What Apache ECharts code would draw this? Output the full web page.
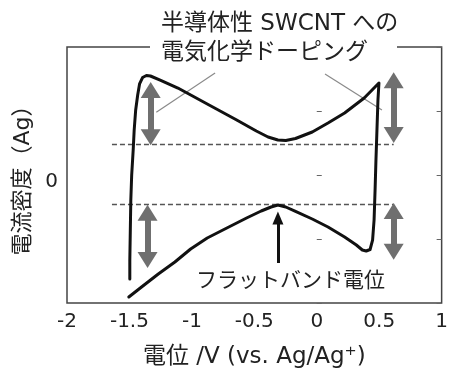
<!DOCTYPE html>
<html><head><meta charset="utf-8">
<script src="https://cdn.jsdelivr.net/npm/echarts@6/dist/echarts.min.js"></script>
<style>html,body{margin:0;padding:0;background:#fff}#c{width:451px;height:374px}</style>
</head><body><div id="c"></div>
<script>
// Cyclic voltammogram: forward sweep (lower branch, then up the right edge)
const forwardPotential = [-1.505,-1.403,-1.269,-1.136,-1.010,-0.877,-0.720,-0.562,-0.445,-0.366,-0.311,-0.248,-0.170,-0.036,0.090,0.223,0.317,0.365,0.396,0.427,0.447,0.459,0.467,0.474,0.482,0.490,0.498];
const forwardCurrent   = [-1.906,-1.75,-1.547,-1.359,-1.156,-0.984,-0.828,-0.672,-0.5625,-0.5,-0.469,-0.5,-0.570,-0.6875,-0.8125,-0.969,-1.094,-1.172,-1.1875,-1.164,-1.016,-0.703,-0.234,0.234,0.703,1.172,1.4375];
// reverse sweep (upper branch, then down the left edge)
const reversePotential = [0.380,0.223,0.090,-0.036,-0.170,-0.248,-0.311,-0.390,-0.484,-0.641,-0.877,-1.112,-1.254,-1.332,-1.364,-1.395,-1.419,-1.434,-1.450,-1.462,-1.470,-1.482,-1.489,-1.493,-1.497,-1.497];
const reverseCurrent   = [1.203,0.969,0.8125,0.672,0.570,0.539,0.547,0.594,0.6875,0.859,1.109,1.359,1.484,1.547,1.555,1.523,1.422,1.25,1.016,0.703,0.391,0,-0.391,-0.859,-1.328,-1.625];

const xTicks = [-2,-1.5,-1,-0.5,0,0.5,1];
// dashed reference levels [xStart, xEnd, y]
const dashedLevels = [[-1.64,0.616,0.484],[-1.64,0.616,-0.453]];
// gray double arrows [x, yFrom, yTo]
const grayArrows = [[-1.33,0.59,1.33],[-1.355,-0.59,-1.33],[0.616,0.625,1.48],[0.616,-0.5625,-1.20]];
// thin leader lines [x1,y1,x2,y2]
const leaderLines = [[-0.814,1.594,-1.285,0.98],[0.066,1.578,0.522,1.016]];
// flat-band arrow [x, yTail, yHead]
const flatBandArrow = [-0.311,-1.375,-0.672];

const curve = [];
forwardPotential.forEach((v,i)=>curve.push([v,forwardCurrent[i]]));
reversePotential.forEach((v,i)=>curve.push([v,reverseCurrent[i]]));

const FONT = '"DejaVu Sans","Noto Sans CJK JP",sans-serif';

const markData = [];
dashedLevels.forEach(d=>markData.push([{coord:[d[0],d[2]],symbol:'none',lineStyle:{color:'#555',width:1.4,type:[5,3]}},{coord:[d[1],d[2]],symbol:'none'}]));
grayArrows.forEach(a=>markData.push([{coord:[a[0],a[1]],symbol:'triangle',symbolSize:[20,16],lineStyle:{color:'#6f6f6f',width:6,type:'solid'},itemStyle:{color:'#6f6f6f'}},{coord:[a[0],a[2]],symbol:'triangle',symbolSize:[20,16],itemStyle:{color:'#6f6f6f'}}]));
leaderLines.forEach(l=>markData.push([{coord:[l[0],l[1]],symbol:'none',lineStyle:{color:'#8a8a8a',width:1.2,type:'solid'}},{coord:[l[2],l[3]],symbol:'none'}]));
markData.push([{coord:[flatBandArrow[0],flatBandArrow[1]],symbol:'none',lineStyle:{color:'#111',width:3,type:'solid'}},{coord:[flatBandArrow[0],flatBandArrow[2]],symbol:'triangle',symbolSize:[11,13],itemStyle:{color:'#111'}}]);

const chart = echarts.init(document.getElementById('c'));
chart.setOption({
  animation:false,
  backgroundColor:'#fff',
  grid:{left:67,right:2,top:47,bottom:71,show:true,borderColor:'#444',borderWidth:1.5,backgroundColor:'transparent'},
  xAxis:{type:'value',min:-2,max:1,interval:0.5,
    name:'電位 /V (vs. Ag/Ag⁺)',nameLocation:'middle',nameGap:43,
    nameTextStyle:{fontFamily:FONT,fontSize:23,color:'#222'},
    axisLine:{show:false},axisTick:{show:false},splitLine:{show:false},
    axisLabel:{fontFamily:FONT,fontSize:20,color:'#222',margin:9,
      formatter:v=>{const t=xTicks.find(k=>Math.abs(k-v)<1e-9);return t===undefined?'':String(t);}}},
  yAxis:[{type:'value',min:-2,max:2,interval:1,
    name:'電流密度（Ag）',nameLocation:'middle',nameGap:30,nameRotate:90,
    nameTextStyle:{fontFamily:FONT,fontSize:22,color:'#222'},
    axisLine:{show:false},axisTick:{show:true,inside:true,length:5,lineStyle:{color:'#666'}},splitLine:{show:false},
    axisLabel:{fontFamily:FONT,fontSize:20,color:'#222',margin:9,formatter:v=>v===0?'{z|0}':'',
      rich:{z:{fontFamily:FONT,fontSize:20,color:'#222',padding:[14,0,0,0]}}}},
   {type:'value',min:-2,max:2,interval:1,position:'right',
    axisLine:{show:false},axisTick:{show:true,inside:true,length:5,lineStyle:{color:'#666'}},splitLine:{show:false},axisLabel:{show:false}}],
  series:[{type:'line',data:curve,showSymbol:false,symbol:'none',smooth:false,
    lineStyle:{color:'#111',width:3,join:'round',cap:'round'},z:5,
    markLine:{silent:true,animation:false,label:{show:false},emphasis:{disabled:true},data:markData}}],
  graphic:[
    {type:'rect',shape:{x:150,y:40,width:247,height:14},style:{fill:'#fff'},z:100},
    {type:'text',x:161,y:10,z:101,style:{text:'半導体性 SWCNT への\n電気化学ドーピング',font:'23px '+FONT,fill:'#222',lineHeight:29}},
    {type:'text',x:196,y:282,z:101,style:{text:'フラットバンド電位',font:'21px '+FONT,fill:'#222',verticalAlign:'middle'}}
  ]
});
</script></body></html>
